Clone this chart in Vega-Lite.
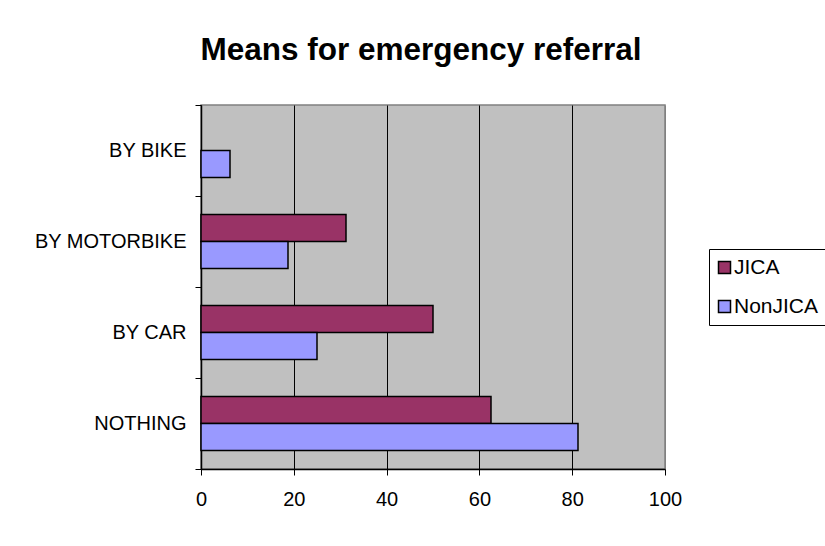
{
  "$schema": "https://vega.github.io/schema/vega-lite/v6.json",
  "width": 464,
  "height": 364,
  "autosize": {"type": "none"},
  "padding": {"left": 201, "top": 105, "right": 160, "bottom": 77},
  "background": "white",
  "title": {
    "text": "Means for emergency referral",
    "font": "Liberation Sans",
    "fontSize": 31.5,
    "fontWeight": "bold",
    "color": "black",
    "anchor": "middle",
    "dx": -12,
    "offset": 29
  },
  "config": {
    "view": {"fill": "#C0C0C0", "stroke": "#808080", "strokeWidth": 1.5},
    "font": "Liberation Sans"
  },
  "data": {
    "values": [
      {"category": "BY BIKE", "group": "NonJICA", "value": 6.25},
      {"category": "BY MOTORBIKE", "group": "JICA", "value": 31.25},
      {"category": "BY MOTORBIKE", "group": "NonJICA", "value": 18.75},
      {"category": "BY CAR", "group": "JICA", "value": 50},
      {"category": "BY CAR", "group": "NonJICA", "value": 25},
      {"category": "NOTHING", "group": "JICA", "value": 62.5},
      {"category": "NOTHING", "group": "NonJICA", "value": 81.25}
    ]
  },
  "mark": {"type": "bar", "stroke": "black", "strokeWidth": 1.5},
  "encoding": {
    "y": {
      "field": "category",
      "type": "nominal",
      "sort": ["BY BIKE", "BY MOTORBIKE", "BY CAR", "NOTHING"],
      "scale": {"paddingInner": 0, "paddingOuter": 0},
      "axis": {
        "title": null,
        "domainColor": "black",
        "domainWidth": 1.5,
        "tickColor": "black",
        "tickSize": 6,
        "tickBand": "extent",
        "labelFontSize": 20,
        "labelColor": "black",
        "labelPadding": 9,
        "grid": false
      }
    },
    "yOffset": {
      "field": "group",
      "type": "nominal",
      "sort": ["JICA", "NonJICA"],
      "scale": {"domain": ["JICA", "NonJICA"], "paddingInner": 0, "paddingOuter": 0.685}
    },
    "x": {
      "field": "value",
      "type": "quantitative",
      "scale": {"domain": [0, 100], "nice": false},
      "axis": {
        "title": null,
        "values": [0, 20, 40, 60, 80, 100],
        "domainColor": "black",
        "domainWidth": 1.5,
        "tickColor": "black",
        "tickSize": 6,
        "labelFontSize": 20,
        "labelColor": "black",
        "labelPadding": 14,
        "labelFlush": false,
        "grid": true,
        "gridColor": {"condition": {"test": "datum.value == 100", "value": "#808080"}, "value": "black"},
        "gridOpacity": 1,
        "gridWidth": 1
      }
    },
    "color": {
      "field": "group",
      "type": "nominal",
      "scale": {"domain": ["JICA", "NonJICA"], "range": ["#993366", "#9999FF"]},
      "legend": {
        "title": null,
        "orient": "none",
        "legendX": 508,
        "legendY": 144,
        "direction": "vertical",
        "strokeColor": "black",
        "padding": 8,
        "symbolType": "square",
        "symbolSize": 144,
        "symbolOffset": -3,
        "symbolStrokeColor": "black",
        "symbolStrokeWidth": 1.5,
        "symbolOpacity": 1,
        "labelFontSize": 21,
        "labelColor": "black",
        "labelOffset": -1,
        "rowPadding": 17
      }
    }
  }
}
